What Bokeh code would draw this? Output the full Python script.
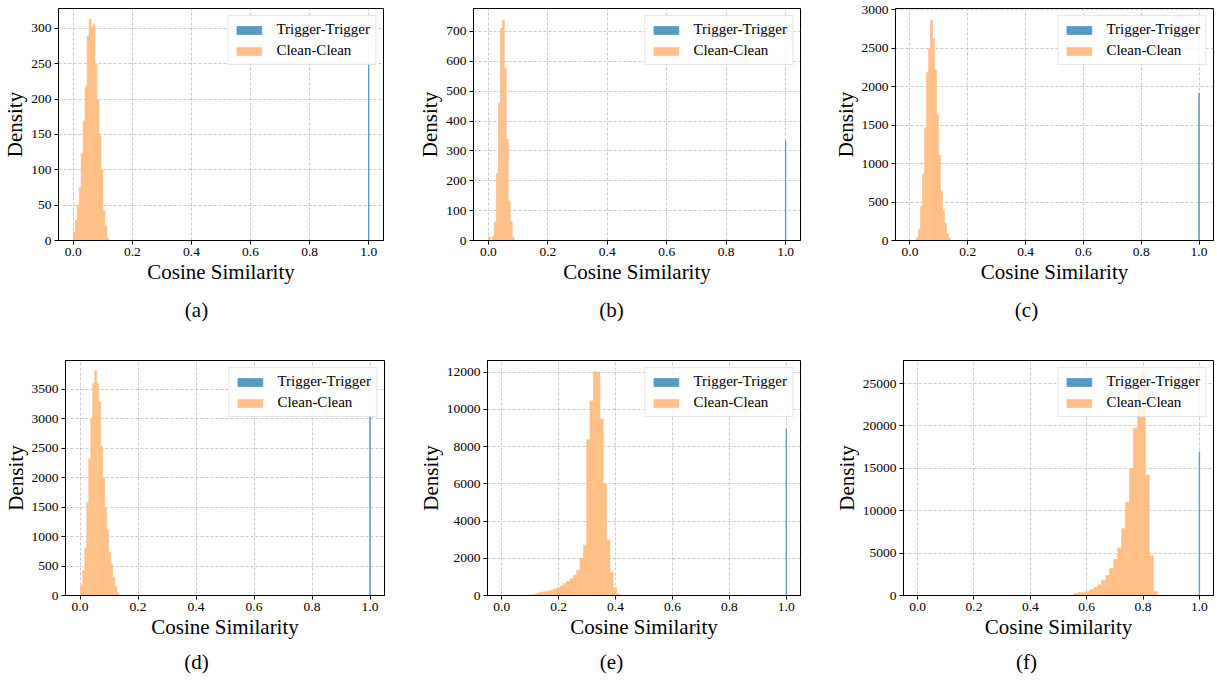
from bokeh.plotting import figure
from bokeh.models import Range1d, FixedTicker, PrintfTickFormatter, Legend, LegendItem, Title, ColumnDataSource
from bokeh.layouts import column, row
from bokeh.embed import file_html
from bokeh.resources import INLINE

# ---------------- data ----------------
captions = ["(a)", "(b)", "(c)", "(d)", "(e)", "(f)"]
series_names = ["Trigger-Trigger", "Clean-Clean"]
x_ticks = [0.0, 0.2, 0.4, 0.6, 0.8, 1.0]
trigger_x = 1.0

# Clean-Clean histograms: first bin edge, bin width, densities
a_start, a_width = 0.0, 0.0067
a_clean = [11, 29, 50, 75, 123, 169, 218, 289, 313, 302, 305, 250, 199, 148, 100, 42, 21, 3]
b_start, b_width = 0.0, 0.0067
b_clean = [12, 0, 13, 62, 224, 459, 710, 738, 577, 340, 132, 65, 10]
c_start, c_width = 0.0228, 0.0069
c_clean = [40, 150, 445, 860, 1465, 2180, 2500, 2860, 2620, 2220, 1640, 1110, 640, 390, 225, 90, 35]
d_start, d_width = 0.0025, 0.0069
d_clean = [175, 420, 805, 1575, 2325, 3015, 3600, 3810, 3600, 3290, 2530, 2000, 1480, 1110, 740, 535, 305, 155, 55]
e_start, e_width = 0.1113, 0.0117
e_clean = [60, 120, 170, 200, 230, 280, 340, 400, 520, 640, 760, 900, 1100, 1350, 2000, 2700,
           8360, 10440, 12020, 11960, 9480, 6000, 2980, 1250, 420, 80]
f_start, f_width = 0.5545, 0.0141
f_clean = [235, 313, 392, 509, 705, 980, 1254, 1763, 2351, 3174, 4232, 5604, 7876, 11011, 15008,
           19710, 24400, 26450, 14220, 4700, 470]

# Trigger-Trigger densities (single narrow bin at 1.0)
trigger_heights = [250, 335, 1914, 3046, 8948, 16937]
trigger_width = 0.0015

# y ticks / y range tops
a_yticks = [0, 50, 100, 150, 200, 250, 300]
b_yticks = [0, 100, 200, 300, 400, 500, 600, 700]
c_yticks = [0, 500, 1000, 1500, 2000, 2500, 3000]
d_yticks = [0, 500, 1000, 1500, 2000, 2500, 3000, 3500]
e_yticks = [0, 2000, 4000, 6000, 8000, 10000, 12000]
f_yticks = [0, 5000, 10000, 15000, 20000, 25000]
y_tops = [328, 777, 3013, 3990, 12620, 27720]

x_label = "Cosine Similarity"
y_label = "Density"

# ---------------- styling / layout ----------------
BLUE = "#5799c7"
ORANGE = "#ffbf86"
FONT = "Liberation Serif"
CAP_PX = 21

# W/H: figure size, bl/br/bt/bb: borders, cap: caption centre relative to frame left
panels = [
    dict(clean=a_clean, start=a_start, width=a_width, yticks=a_yticks, W=415, H=340, bl=58, br=32, bt=4, bb=100, cap=138, cw=23.3, cs=19),
    dict(clean=b_clean, start=b_start, width=b_width, yticks=b_yticks, W=415, H=340, bl=58, br=30, bt=4, bb=100, cap=138, cw=24.5, cs=19),
    dict(clean=c_clean, start=c_start, width=c_width, yticks=c_yticks, W=385, H=340, bl=65, br=2, bt=8, bb=100, cap=131, cw=23.3, cs=19),
    dict(clean=d_clean, start=d_start, width=d_width, yticks=d_yticks, W=415, H=340, bl=65, br=31, bt=20, bb=84, cap=131, cw=24.5, cs=13),
    dict(clean=e_clean, start=e_start, width=e_width, yticks=e_yticks, W=415, H=340, bl=72, br=30, bt=20, bb=84, cap=124, cw=23.3, cs=13),
    dict(clean=f_clean, start=f_start, width=f_width, yticks=f_yticks, W=385, H=340, bl=73, br=2, bt=20, bb=84, cap=123, cw=20.9, cs=13),
]


def make_panel(i, cfg):
    p = figure(width=cfg["W"], height=cfg["H"], output_backend="svg", toolbar_location=None,
               x_range=Range1d(-0.05, 1.05), y_range=Range1d(0, y_tops[i]),
               min_border_left=cfg["bl"], min_border_right=cfg["br"],
               min_border_top=cfg["bt"], min_border_bottom=cfg["bb"])
    p.background_fill_color = "white"
    p.border_fill_color = "white"
    p.outline_line_color = "black"
    p.outline_line_width = 1

    # trigger-trigger
    tsrc = ColumnDataSource(dict(x=[trigger_x], top=[trigger_heights[i]]))
    r_t = p.vbar(x="x", top="top", width=trigger_width, bottom=0, source=tsrc,
                 fill_color=BLUE, line_color=BLUE, line_width=0.8)
    # clean-clean
    n = len(cfg["clean"])
    xs = [cfg["start"] + (k + 0.5) * cfg["width"] for k in range(n)]
    csrc = ColumnDataSource(dict(x=xs, top=cfg["clean"]))
    r_c = p.vbar(x="x", top="top", width=cfg["width"], bottom=0, source=csrc,
                 fill_color=ORANGE, line_color=ORANGE, line_width=0.6)

    # axes
    p.xaxis.ticker = FixedTicker(ticks=x_ticks)
    p.xaxis.formatter = PrintfTickFormatter(format="%.1f")
    p.yaxis.ticker = FixedTicker(ticks=cfg["yticks"])
    for ax in (p.xaxis[0], p.yaxis[0]):
        ax.axis_line_color = "black"
        ax.major_tick_line_color = "black"
        ax.major_tick_out = 4
        ax.major_tick_in = 0
        ax.minor_tick_line_color = None
        ax.major_label_text_font = FONT
        ax.major_label_text_font_size = "13.5px"
        ax.major_label_text_color = "black"
        ax.axis_label_text_font = FONT
        ax.axis_label_text_font_size = "21px"
        ax.axis_label_text_font_style = "normal"
        ax.axis_label_text_color = "black"
    p.xaxis.major_label_standoff = 3
    p.xaxis.axis_label_standoff = 1
    p.yaxis.major_label_standoff = 3
    p.yaxis.axis_label_standoff = 1
    p.xaxis.axis_label = x_label
    p.yaxis.axis_label = y_label

    # grid
    for g in (p.xgrid[0], p.ygrid[0]):
        g.grid_line_color = "#bdbdbd"
        g.grid_line_width = 0.8
        g.grid_line_dash = "3 2"
    p.xgrid.ticker = FixedTicker(ticks=x_ticks)
    p.ygrid.ticker = FixedTicker(ticks=cfg["yticks"])

    legend = Legend(items=[LegendItem(label=series_names[0], renderers=[r_t]),
                           LegendItem(label=series_names[1], renderers=[r_c])],
                    location="top_right")
    legend.margin = 7
    legend.padding = 5
    legend.spacing = 4
    legend.glyph_width = 31
    legend.glyph_height = 10
    legend.label_height = 17
    legend.label_standoff = 12
    legend.label_text_font = FONT
    legend.label_text_font_size = "15px"
    legend.label_text_color = "black"
    legend.border_line_color = "#cccccc"
    legend.border_line_width = 1
    legend.background_fill_alpha = 0.8
    p.add_layout(legend)

    cap = Title(text=captions[i], align="left", offset=cfg["cap"] - cfg["cw"] / 2,
                text_font=FONT, text_font_size=f"{CAP_PX}px", text_font_style="normal",
                text_color="black", standoff=cfg["cs"])
    p.add_layout(cap, "below")
    return p


figs = [make_panel(i, cfg) for i, cfg in enumerate(panels)]
layout = column(row(*figs[:3]), row(*figs[3:]))
open("out.html", "w").write(file_html(layout, INLINE))
